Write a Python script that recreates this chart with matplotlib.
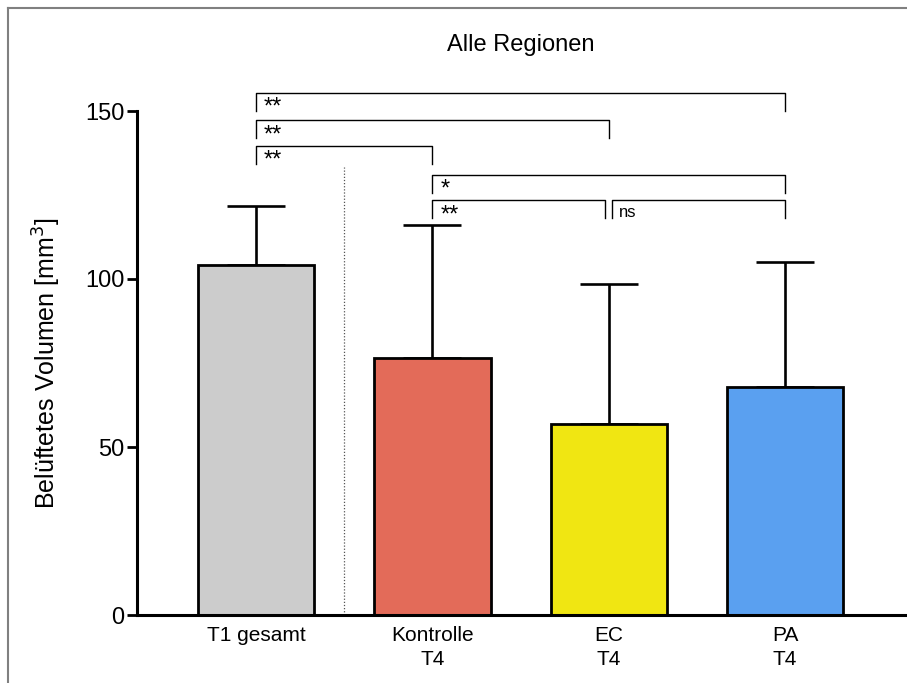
import matplotlib.pyplot as plt
from matplotlib.lines import Line2D

plt.rcParams['font.family'] = ['Liberation Sans', 'DejaVu Sans']

# data
groups = ['T1 gesamt', 'Kontrolle\nT4', 'EC\nT4', 'PA\nT4']
means = [104.2, 76.5, 56.8, 67.8]
sds = [17.6, 39.6, 41.8, 37.3]
bar_colors = ['#cccccc', '#e36b59', '#f0e612', '#5aa0f0']

# significance comparisons: (left group, right group, label)
comparisons = [(0, 3, '**'), (0, 2, '**'), (0, 1, '**'),
               (1, 3, '*'), (1, 2, '**'), (2, 3, 'ns')]
# bracket heights (layout only)
bracket_y = [155.4, 147.3, 139.6, 131.0, 123.5, 123.5]

fig = plt.figure(figsize=(9.07, 6.83), dpi=100)
ax = fig.add_axes([137 / 907, 68 / 683, 768 / 907, 537.6 / 683])

x = range(len(groups))
ax.bar(x, means, width=0.66, color=bar_colors, edgecolor='black', linewidth=2.0, zorder=2)
ax.errorbar(x, means, yerr=[[0] * len(sds), sds], fmt='none', ecolor='black',
            elinewidth=1.9, capsize=21, capthick=1.9, zorder=1)

# dotted separator between baseline and T4 groups
ax.plot([0.5, 0.5], [0, 133.3], color='#555555', linestyle=(0, (1, 1.5)), linewidth=0.9)

# brackets
leg = 5.4
for (i, j, lab), y in zip(comparisons, bracket_y):
    x1, x2 = i, j
    # leave a small gap where two brackets meet at the same height
    if (i, j) == (1, 2):
        x2 = j - 0.02
    if (i, j) == (2, 3):
        x1 = i + 0.02
    ax.plot([x1, x1, x2, x2], [y - leg, y, y, y - leg], color='black', linewidth=1.0)
    if lab == 'ns':
        ax.text(x1 + 0.04, y - 1.4, lab, ha='left', va='top', fontsize=12)
    else:
        ax.text(x1 + 0.045, y - 1.2, lab, ha='left', va='top', fontsize=17)

ax.set_xlim(-0.675, 3.68)
ax.set_ylim(0, 160)
ax.set_yticks([0, 50, 100, 150])
ax.set_xticks(list(x))
ax.set_xticklabels(groups, fontsize=15, linespacing=1.35)
ax.tick_params(axis='x', length=0, pad=8)
ax.tick_params(axis='y', length=7, width=2, labelsize=17, pad=2)
ax.spines['top'].set_visible(False)
ax.spines['right'].set_visible(False)
ax.spines['left'].set_bounds(0, 150)
ax.spines['left'].set_linewidth(2.2)
ax.spines['bottom'].set_linewidth(2.2)
ax.set_ylabel('Belüftetes Volumen [mm$^3$]', fontsize=18)
ax.yaxis.set_label_coords(-0.097, 75 / 160)

fig.text(521 / 907, 1 - 45 / 683, 'Alle Regionen', ha='center', va='center', fontsize=17)

# thin frame lines at top and left like the screenshot
fig.add_artist(Line2D([8 / 907, 1], [1 - 8 / 683, 1 - 8 / 683], color='#808080', linewidth=1.5))
fig.add_artist(Line2D([8 / 907, 8 / 907], [0, 1 - 8 / 683], color='#808080', linewidth=1.5))

plt.savefig('out.png', dpi=100)
